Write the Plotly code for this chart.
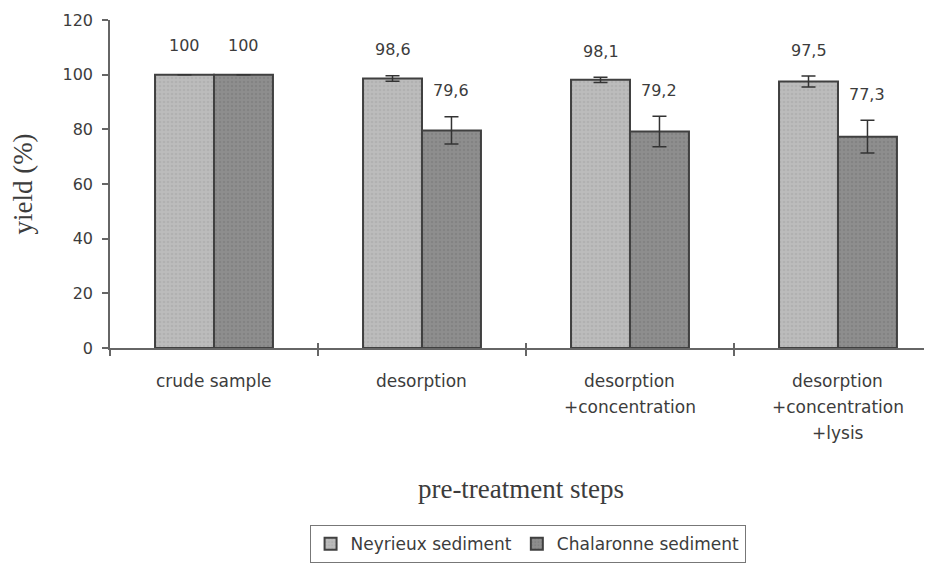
import plotly.graph_objects as go

categories = ["crude sample", "desorption", "desorption+concentration", "desorption+concentration+lysis"]
category_lines = [["crude sample"], ["desorption"], ["desorption", "+concentration"],
                  ["desorption", "+concentration", "+lysis"]]
series_names = ["Neyrieux sediment", "Chalaronne sediment"]
neyrieux = [100, 98.6, 98.1, 97.5]
neyrieux_err = [0, 1.0, 1.0, 2.0]
chalaronne = [100, 79.6, 79.2, 77.3]
chalaronne_err = [0, 5.0, 5.6, 6.0]
value_labels_ney = ["100", "98,6", "98,1", "97,5"]
value_labels_cha = ["100", "79,6", "79,2", "77,3"]
y_ticks = [0, 20, 40, 60, 80, 100, 120]

TXT = "#3c3c3c"
SANS = "DejaVu Sans, Arial, sans-serif"
SERIF = "Liberation Serif, Times New Roman, serif"

fig = go.Figure()
styles = [("#bcbcbc", "#a6a6a6"), ("#8e8e8e", "#777777")]
for name, vals, errs, (col, fg) in zip(series_names, [neyrieux, chalaronne],
                                       [neyrieux_err, chalaronne_err], styles):
    fig.add_trace(go.Bar(
        name=name, x=categories, y=vals,
        marker=dict(color=col, line=dict(color="#404040", width=2),
                    pattern=dict(shape=".", size=4, solidity=0.35, fgcolor=fg, bgcolor=col)),
        error_y=dict(type="data", array=errs, visible=True, color="#333333", thickness=1.5, width=7),
    ))

ncat = len(categories)
bargap = 0.433
half = (1 - bargap) / 4
annotations = []
for i in range(ncat):
    for sign, vals, errs, labs in [(-1, neyrieux, neyrieux_err, value_labels_ney),
                                   (1, chalaronne, chalaronne_err, value_labels_cha)]:
        annotations.append(dict(
            x=i + sign * half, y=vals[i] + errs[i], xref="x2", yref="y",
            text=labs[i], showarrow=False, yanchor="middle", yshift=26 if errs[i] else 29,
            font=dict(family=SANS, size=16, color=TXT)))
    for j, line in enumerate(category_lines[i]):
        annotations.append(dict(
            x=i, y=0, xref="x2", yref="paper", text=line, showarrow=False,
            yanchor="middle", yshift=-33 - 26 * j,
            font=dict(family=SANS, size=17, color=TXT)))

xr = [-0.5, 3.452]
fig.update_layout(
    width=924, height=558,
    margin=dict(l=102, r=0, t=12, b=218, autoexpand=False),
    paper_bgcolor="white", plot_bgcolor="white",
    barmode="group", bargap=bargap, bargroupgap=0,
    showlegend=True,
    legend=dict(orientation="h", x=0.508, xanchor="center", y=-0.54, yanchor="top",
                bordercolor="#777777", borderwidth=1, itemwidth=30,
                font=dict(family=SANS, size=17, color=TXT)),
    xaxis=dict(type="category", range=xr, tickson="boundaries", ticks="outside", ticklen=6,
               tickcolor="#666666", tickwidth=1.5, showticklabels=False, automargin=False,
               showline=True, linecolor="#666666", linewidth=1.5, showgrid=False, zeroline=False,
               title=dict(text="pre-treatment steps", font=dict(family=SERIF, size=27, color=TXT),
                          standoff=130)),
    xaxis2=dict(overlaying="x", anchor="y", range=xr, type="linear", tickvals=[0.5, 1.5, 2.5],
                ticks="inside", ticklen=5, tickcolor="#666666", tickwidth=1.5, automargin=False,
                showticklabels=False, showline=False, showgrid=False, zeroline=False),
    yaxis=dict(range=[0, 120], tickvals=y_ticks, ticks="outside", ticklen=6, automargin=False,
               tickcolor="#666666", tickwidth=1.5, showline=True, linecolor="#666666",
               linewidth=1.5, showgrid=False, zeroline=False, ticklabelstandoff=6,
               tickfont=dict(family=SANS, size=16, color=TXT),
               title=dict(text="yield (%)", font=dict(family=SERIF, size=27, color=TXT), standoff=22)),
    yaxis2=dict(overlaying="y", anchor="x", range=[0, 120], tickvals=y_ticks, ticks="inside",
                ticklen=5, tickcolor="#666666", tickwidth=1.5, showticklabels=False, automargin=False,
                showline=False, showgrid=False, zeroline=False, side="left"),
    annotations=annotations,
)
fig.write_html("out.html")
